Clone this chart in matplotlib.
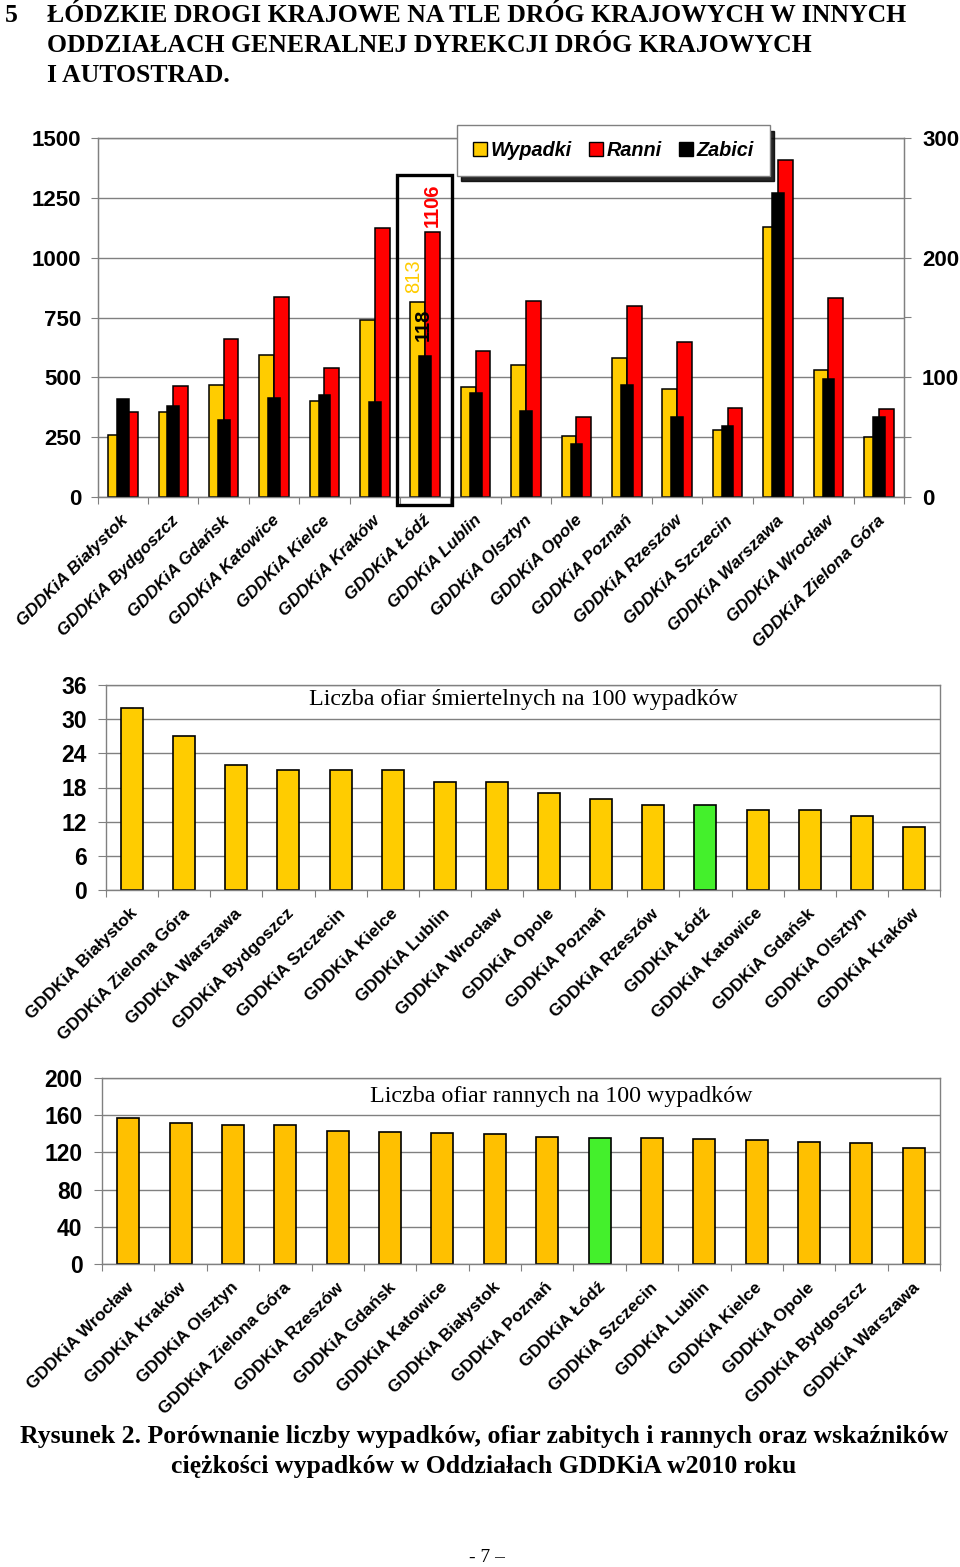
import matplotlib
matplotlib.use('Agg')
import matplotlib.pyplot as plt
import matplotlib.transforms as mtransforms
from matplotlib.patches import Rectangle, Patch
import numpy as np

# dane: drogi krajowe w oddziałach GDDKiA, 2010
oddzialy = ['GDDKiA Białystok', 'GDDKiA Bydgoszcz', 'GDDKiA Gdańsk', 'GDDKiA Katowice',
            'GDDKiA Kielce', 'GDDKiA Kraków', 'GDDKiA Łódź', 'GDDKiA Lublin',
            'GDDKiA Olsztyn', 'GDDKiA Opole', 'GDDKiA Poznań', 'GDDKiA Rzeszów',
            'GDDKiA Szczecin', 'GDDKiA Warszawa', 'GDDKiA Wrocław', 'GDDKiA Zielona Góra']
wypadki = [257, 355, 466, 594, 403, 740, 813, 458, 550, 255, 582, 452, 278, 1127, 531, 249]
ranni = [357, 463, 661, 835, 541, 1123, 1106, 612, 817, 334, 797, 647, 371, 1409, 833, 369]
zabici = [82, 76, 64, 83, 85, 79, 118, 87, 72, 44, 94, 67, 59, 254, 99, 67]

# liczba ofiar śmiertelnych na 100 wypadków
smiert_oddzialy = ['GDDKiA Białystok', 'GDDKiA Zielona Góra', 'GDDKiA Warszawa', 'GDDKiA Bydgoszcz',
                   'GDDKiA Szczecin', 'GDDKiA Kielce', 'GDDKiA Lublin', 'GDDKiA Wrocław',
                   'GDDKiA Opole', 'GDDKiA Poznań', 'GDDKiA Rzeszów', 'GDDKiA Łódź',
                   'GDDKiA Katowice', 'GDDKiA Gdańsk', 'GDDKiA Olsztyn', 'GDDKiA Kraków']
smiert_wsk = [32, 27, 22, 21, 21, 21, 19, 19, 17, 16, 15, 15, 14, 14, 13, 11]

# liczba ofiar rannych na 100 wypadków
ranni_oddzialy = ['GDDKiA Wrocław', 'GDDKiA Kraków', 'GDDKiA Olsztyn', 'GDDKiA Zielona Góra',
                  'GDDKiA Rzeszów', 'GDDKiA Gdańsk', 'GDDKiA Katowice', 'GDDKiA Białystok',
                  'GDDKiA Poznań', 'GDDKiA Łódź', 'GDDKiA Szczecin', 'GDDKiA Lublin',
                  'GDDKiA Kielce', 'GDDKiA Opole', 'GDDKiA Bydgoszcz', 'GDDKiA Warszawa']
ranni_wsk = [157, 152, 149, 149, 143, 142, 141, 140, 137, 136, 135, 134, 133, 131, 130, 125]

YELLOW = '#FFCC00'
YELLOW2 = '#FFC000'
RED = '#FF0000'
GREEN = '#44F02C'
GRAY = '#808080'
SANS = ['Liberation Sans', 'DejaVu Sans']
NARROW = ['Liberation Sans Narrow', 'Liberation Sans', 'DejaVu Sans']
SERIF = ['Liberation Serif', 'DejaVu Serif']

W, H = 960, 1567
fig = plt.figure(figsize=(W / 100, H / 100), dpi=100)


def ax_rect(left, top, right, bottom):
    return [left / W, 1 - bottom / H, (right - left) / W, (bottom - top) / H]


def style_axes(ax):
    for sp in ax.spines.values():
        sp.set_color(GRAY)
        sp.set_linewidth(1)
    ax.yaxis.grid(True, color=GRAY, lw=1)
    ax.set_axisbelow(True)


def diag_labels(ax, labels, italic):
    off = mtransforms.ScaledTranslation(3 / 100, -21 / 100, fig.dpi_scale_trans)
    for i, lab in enumerate(labels):
        ax.text(i, 0, lab, transform=ax.get_xaxis_transform() + off,
                rotation=45, rotation_mode='anchor', ha='right', va='center',
                fontsize=12.5, fontweight='bold',
                fontstyle='italic' if italic else 'normal', family=SANS)


def boundary_ticks(ax, n):
    ax.set_xlim(-0.5, n - 0.5)
    ax.set_xticks(np.arange(-0.5, n, 1))
    ax.set_xticklabels([])
    ax.tick_params(axis='x', direction='out', length=5, color=GRAY)


# nagłówek
fig.text(5 / W, 1 - 15 / H, '5', fontsize=18.5, fontweight='bold', family=SERIF, va='center')
for k, line in enumerate(['ŁÓDZKIE DROGI KRAJOWE NA TLE DRÓG KRAJOWYCH W INNYCH',
                          'ODDZIAŁACH GENERALNEJ DYREKCJI DRÓG KRAJOWYCH',
                          'I AUTOSTRAD.']):
    fig.text(47 / W, 1 - (16 + 29.5 * k) / H, line, fontsize=18.5, fontweight='bold',
             family=SERIF, va='center')

# wykres 1
n = len(oddzialy)
x = np.arange(n)
ax1 = fig.add_axes(ax_rect(97.7, 138, 904, 497))
style_axes(ax1)
bw = 0.293
ax1.bar(x - bw / 2, wypadki, bw, color=YELLOW, edgecolor='black', lw=1.1)
ax1.bar(x + bw / 2, ranni, bw, color=RED, edgecolor='black', lw=1.1)
ax1.set_ylim(0, 1500)
ax1.set_yticks(range(0, 1501, 250))
ax1.tick_params(axis='y', direction='out', length=5, color=GRAY, pad=7, labelsize=16)
for t in ax1.get_yticklabels():
    t.set_fontweight('bold')
    t.set_family(SANS)
boundary_ticks(ax1, n)

ax2 = ax1.twinx()
ax2.bar(x, zabici, 0.233, color='black', edgecolor='black', lw=1.1)
ax2.set_ylim(0, 300)
ax2.set_yticks(range(0, 301, 50))
ax2.set_yticklabels([str(v) if v % 100 == 0 else '' for v in range(0, 301, 50)])
ax2.tick_params(axis='y', direction='out', length=5, color=GRAY, pad=8, labelsize=16)
for t in ax2.get_yticklabels():
    t.set_fontweight('bold')
    t.set_family(SANS)
for sp in ax2.spines.values():
    sp.set_color(GRAY)
ax2.set_xlim(-0.5, n - 0.5)

i_lodz = oddzialy.index('GDDKiA Łódź')
ax1.annotate(str(wypadki[i_lodz]), xy=(i_lodz - bw / 2 - 0.08, wypadki[i_lodz]), xytext=(0, 7),
             textcoords='offset points', rotation=90, ha='center', va='bottom',
             color=YELLOW, fontsize=14.5, family=SANS)
ax1.annotate(str(ranni[i_lodz]), xy=(i_lodz + bw / 2, ranni[i_lodz]), xytext=(0, 4),
             textcoords='offset points', rotation=90, ha='center', va='bottom',
             color=RED, fontsize=14.5, fontweight='bold', family=SANS)
ax2.annotate(str(zabici[i_lodz]), xy=(i_lodz - 0.04, zabici[i_lodz]), xytext=(0, 11),
             textcoords='offset points', rotation=90, ha='center', va='bottom',
             color='black', fontsize=14.5, fontweight='bold', family=SANS, zorder=6)
ax2.add_patch(Rectangle((i_lodz - 0.56, -33 / 5), 1.09, 1378 / 5, fill=False,
                        edgecolor='black', lw=2.4, clip_on=False, zorder=7))

handles = [Patch(facecolor=YELLOW, edgecolor='black'), Patch(facecolor=RED, edgecolor='black'),
           Patch(facecolor='black', edgecolor='black')]
leg = ax2.legend(handles, ['Wypadki', 'Ranni', 'Zabici'], loc='upper left',
                 bbox_to_anchor=(457 / W, 1 - 125 / H), bbox_transform=fig.transFigure,
                 ncol=3, frameon=True, fancybox=False, edgecolor=GRAY, framealpha=1,
                 shadow={'ox': 3, 'oy': -4, 'color': 'black', 'alpha': 0.85},
                 prop=dict(family=SANS, weight='bold', style='italic', size=14.3),
                 handlelength=0.7, handleheight=0.7, handletextpad=0.2,
                 columnspacing=0.85, borderpad=0.8, borderaxespad=0)
leg.set_zorder(10)
diag_labels(ax1, oddzialy, italic=True)

# wykres 2
ax3 = fig.add_axes(ax_rect(106, 685, 940, 890))
style_axes(ax3)
c3 = [GREEN if o == 'GDDKiA Łódź' else YELLOW for o in smiert_oddzialy]
ax3.bar(np.arange(len(smiert_wsk)), smiert_wsk, 0.42, color=c3, edgecolor='black', lw=1.2)
ax3.set_ylim(0, 36)
ax3.set_yticks(range(0, 37, 6))
ax3.tick_params(axis='y', direction='out', length=6, color=GRAY, pad=8, labelsize=16.5)
for t in ax3.get_yticklabels():
    t.set_fontweight('bold')
    t.set_family(NARROW)
boundary_ticks(ax3, len(smiert_wsk))
ax3.text(0.5, 0.93, 'Liczba ofiar śmiertelnych na 100 wypadków', transform=ax3.transAxes,
         ha='center', va='center', fontsize=17.3, family=SERIF)
diag_labels(ax3, smiert_oddzialy, italic=False)

# wykres 3
ax4 = fig.add_axes(ax_rect(102, 1078, 940, 1264))
style_axes(ax4)
c4 = [GREEN if o == 'GDDKiA Łódź' else YELLOW2 for o in ranni_oddzialy]
ax4.bar(np.arange(len(ranni_wsk)), ranni_wsk, 0.42, color=c4, edgecolor='black', lw=1.2)
ax4.set_ylim(0, 200)
ax4.set_yticks(range(0, 201, 40))
ax4.tick_params(axis='y', direction='out', length=6, color=GRAY, pad=8, labelsize=16.5)
for t in ax4.get_yticklabels():
    t.set_fontweight('bold')
    t.set_family(NARROW)
boundary_ticks(ax4, len(ranni_wsk))
ax4.text(0.548, 0.903, 'Liczba ofiar rannych na 100 wypadków', transform=ax4.transAxes,
         ha='center', va='center', fontsize=17.3, family=SERIF)
diag_labels(ax4, ranni_oddzialy, italic=False)

# podpis
fig.text(484 / W, 1 - 1437 / H,
         'Rysunek 2. Porównanie liczby wypadków, ofiar zabitych i rannych oraz wskaźników',
         ha='center', va='center', fontsize=18.5, fontweight='bold', family=SERIF)
fig.text(484 / W, 1 - 1467 / H, 'ciężkości wypadków w Oddziałach GDDKiA w2010 roku',
         ha='center', va='center', fontsize=18.5, fontweight='bold', family=SERIF)
fig.text(487 / W, 1 - 1557 / H, '- 7 –', ha='center', va='center', fontsize=14, family=SERIF)

fig.savefig('out.png', dpi=100)
